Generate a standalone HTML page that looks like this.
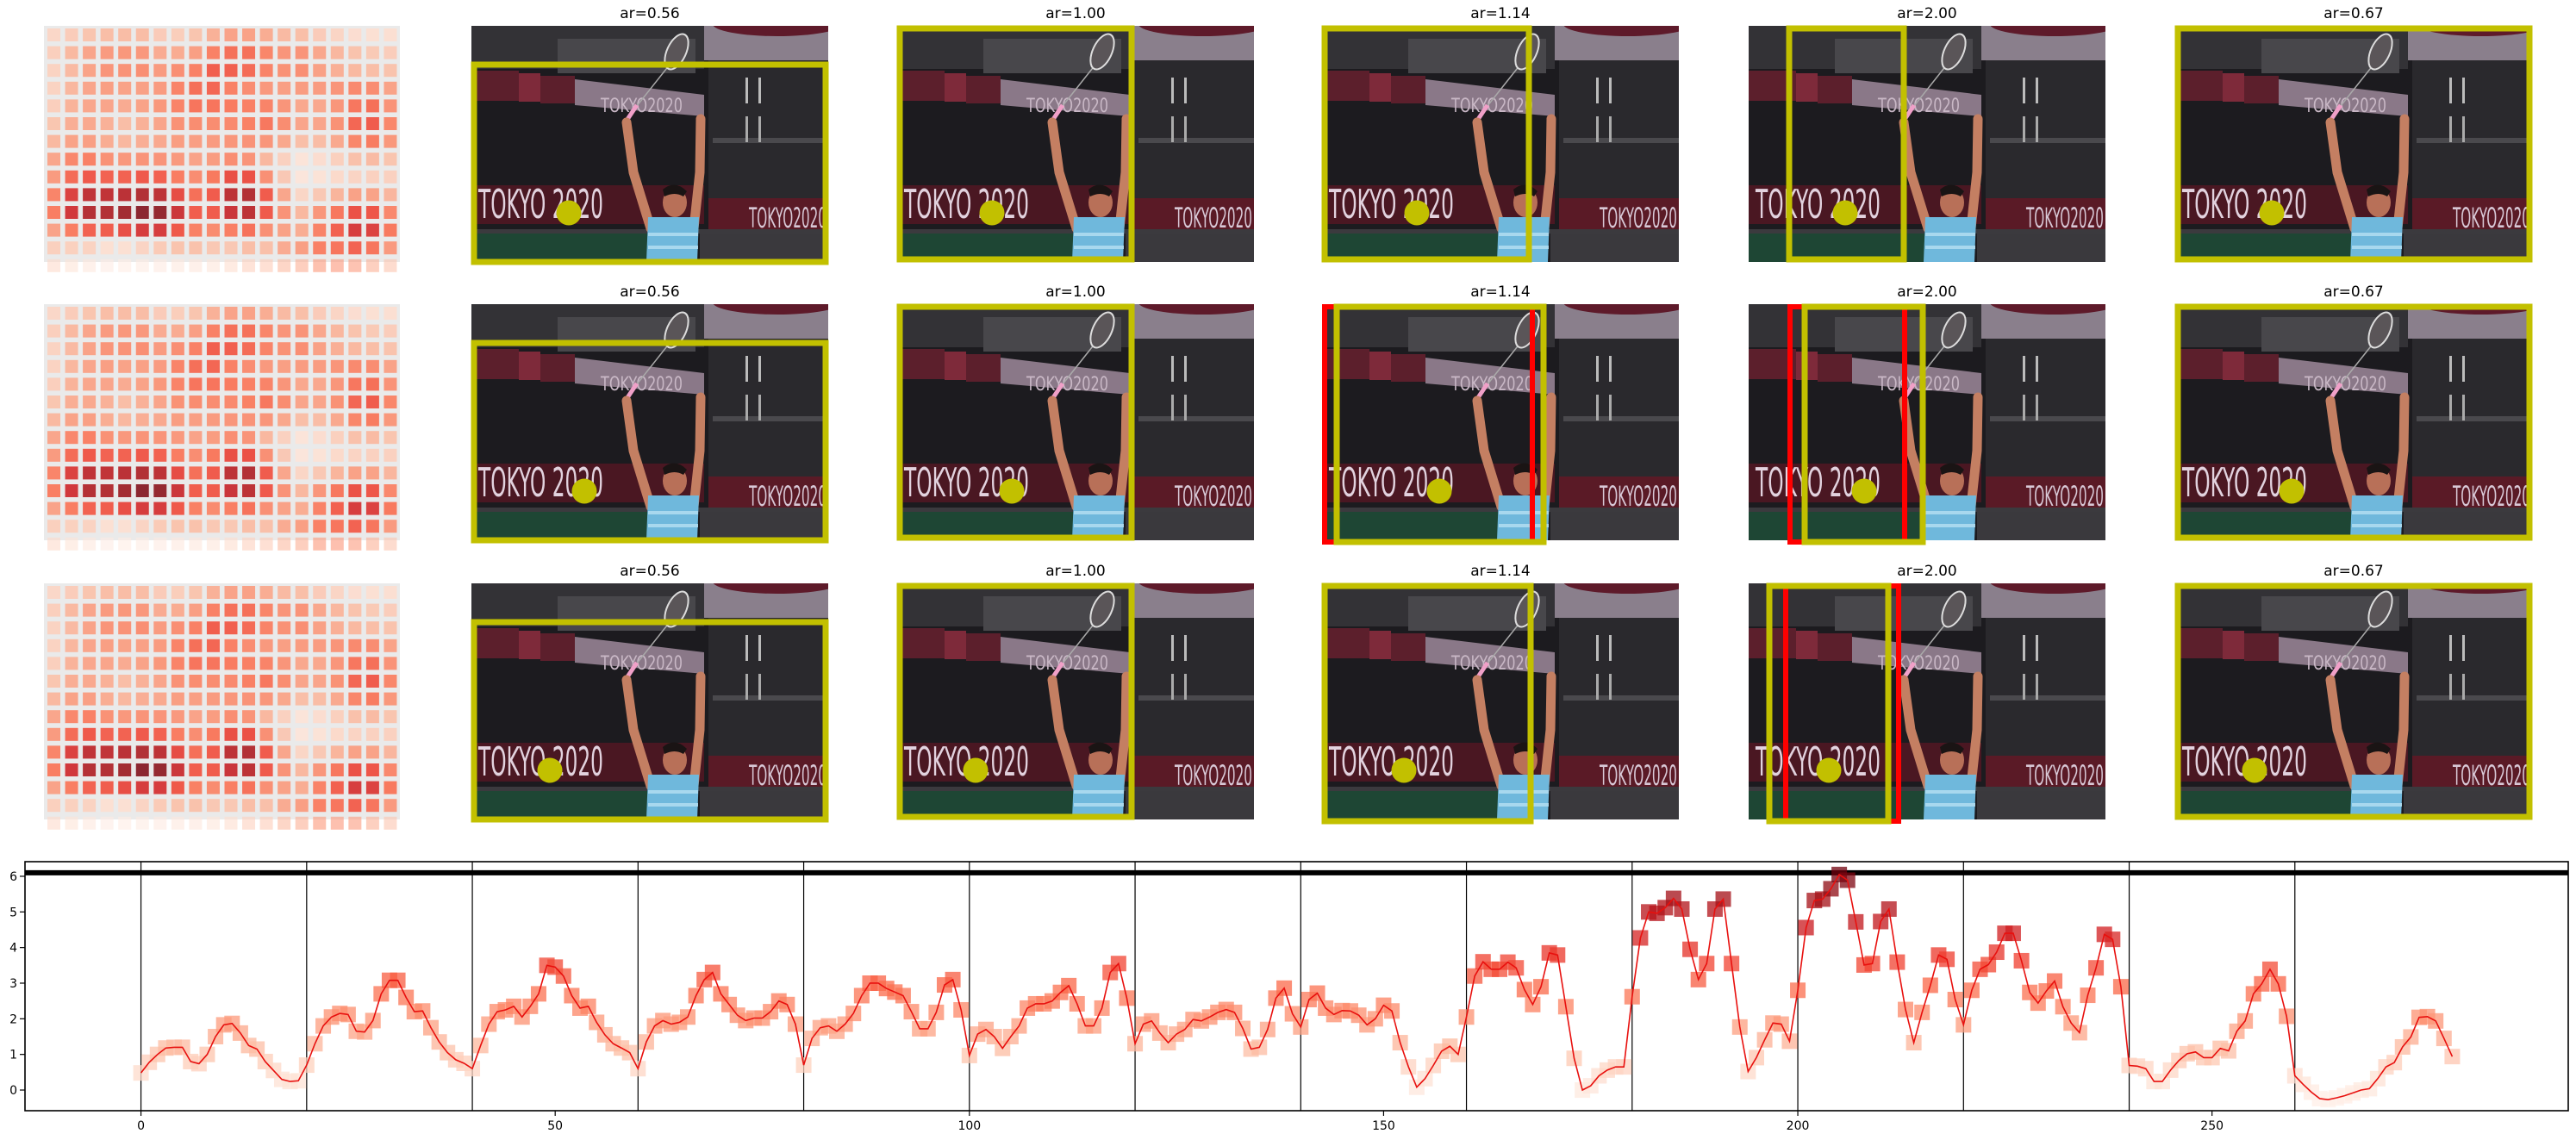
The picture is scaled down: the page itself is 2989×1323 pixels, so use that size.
<!DOCTYPE html>
<html><head><meta charset="utf-8">
<style>
html,body{margin:0;padding:0;background:#fff;}
svg{display:block;font-family:"DejaVu Sans","Liberation Sans",sans-serif;}
</style></head>
<body>
<svg id="fig" xmlns="http://www.w3.org/2000/svg" width="2989" height="1323" viewBox="0 0 2989 1323">
<defs id="defs"></defs>
<g id="panels"></g>
<g id="chart"></g>
</svg>
<script>
// ===== chart data =====
const values = [
0.48,0.78,1.0,1.18,1.2,1.2,0.8,0.74,1.0,1.5,1.83,1.87,1.6,1.25,1.15,0.8,0.55,0.3,0.24,0.26,
0.7,1.3,1.8,2.05,2.15,2.12,1.65,1.63,1.95,2.7,3.08,3.08,2.6,2.2,2.22,1.75,1.35,1.05,0.85,0.75,
0.6,1.25,1.85,2.2,2.25,2.35,2.05,2.35,2.7,3.5,3.45,3.2,2.65,2.3,2.35,1.9,1.55,1.3,1.18,1.05,
0.6,1.35,1.8,1.95,1.85,1.9,2.05,2.65,3.1,3.3,2.7,2.4,2.1,1.95,2.02,2.02,2.2,2.5,2.4,1.85,
0.7,1.45,1.75,1.8,1.65,1.85,2.15,2.65,3.0,3.0,2.85,2.75,2.65,2.2,1.72,1.72,2.18,2.95,3.1,2.25,
0.97,1.57,1.7,1.5,1.17,1.5,1.8,2.3,2.42,2.42,2.5,2.74,2.93,2.42,1.8,1.8,2.3,3.3,3.55,2.58,
1.3,1.85,1.94,1.6,1.33,1.57,1.7,1.98,1.94,2.05,2.18,2.26,2.18,1.73,1.15,1.2,1.7,2.58,2.86,2.14,
1.77,2.54,2.72,2.3,2.12,2.23,2.22,2.1,1.83,2.0,2.38,2.22,1.33,0.65,0.08,0.32,0.69,1.09,1.23,1.0,
2.05,3.2,3.6,3.39,3.39,3.59,3.43,2.82,2.4,2.9,3.85,3.79,2.34,0.89,0.0,0.12,0.4,0.56,0.65,0.65,
2.62,4.27,5.0,4.96,5.12,5.38,5.08,3.95,3.1,3.55,5.08,5.36,3.55,1.77,0.52,0.91,1.41,1.88,1.85,1.37,
2.8,4.56,5.32,5.36,5.65,6.05,5.89,4.72,3.51,3.55,4.73,5.08,3.59,2.26,1.33,2.18,2.94,3.79,3.67,2.54,
1.83,2.8,3.39,3.52,3.87,4.4,4.4,3.63,2.74,2.44,2.78,3.06,2.34,1.88,1.61,2.66,3.43,4.37,4.23,2.9,
0.69,0.67,0.6,0.24,0.24,0.56,0.83,1.02,1.07,0.91,0.91,1.17,1.1,1.65,1.94,2.7,2.98,3.39,2.98,2.07,
0.4,0.16,-0.06,-0.24,-0.27,-0.22,-0.16,-0.08,0.0,0.04,0.32,0.65,0.77,1.21,1.49,2.04,2.06,1.94,1.45,0.94
];
const xTicks = [0,50,100,150,200,250];
const yTicks = [0,1,2,3,4,5,6];
const segmentBounds = [0,20,40,60,80,100,120,140,160,180,200,220,240,260];
const thresholdValue = [6.1];
const panelTitles = ["ar=0.56","ar=1.00","ar=1.14","ar=2.00","ar=0.67"];

const NS="http://www.w3.org/2000/svg";
function mk(tag, attrs, parent){const e=document.createElementNS(NS,tag);for(const k in attrs)e.setAttribute(k,attrs[k]);if(parent)parent.appendChild(e);return e;}

// Reds colormap
const reds=[[255,245,240],[254,224,210],[252,187,161],[252,146,114],[251,106,74],[239,59,44],[203,24,29],[165,15,21],[103,0,13]];
function redsColor(t){t=Math.max(0,Math.min(1,t));const p=t*(reds.length-1);const i=Math.min(reds.length-2,Math.floor(p));const f=p-i;const a=reds[i],b=reds[i+1];
 return `rgb(${Math.round(a[0]+(b[0]-a[0])*f)},${Math.round(a[1]+(b[1]-a[1])*f)},${Math.round(a[2]+(b[2]-a[2])*f)})`;}
const vmin=Math.min(...values), vmax=Math.max(...values);
function norm(v){return (v-vmin)/(vmax-vmin);}

// ===== chart =====
const chart=document.getElementById('chart');
const AX={l:29,r:2980,t:1000,b:1289}, XD=[-14,293], YD=[-0.58,6.41];
function sx(v){return AX.l+(v-XD[0])/(XD[1]-XD[0])*(AX.r-AX.l);}
function sy(v){return AX.b-(v-YD[0])/(YD[1]-YD[0])*(AX.b-AX.t);}
const clipC=mk('clipPath',{id:'chartclip'},document.getElementById('defs'));
mk('rect',{x:AX.l,y:AX.t,width:AX.r-AX.l,height:AX.b-AX.t},clipC);
const plot=mk('g',{'clip-path':'url(#chartclip)'},chart);


segmentBounds.forEach(b=>{
 const l=mk('line',{x1:sx(b),x2:sx(b),y1:AX.t,y2:AX.b,stroke:'#000','stroke-width':1.2},plot);
 
 
});
thresholdValue.forEach(v=>{
 const l=mk('line',{x1:AX.l,x2:AX.r,y1:sy(v),y2:sy(v),stroke:'#000','stroke-width':6},plot);
 
 
});
const mg=mk('g',{},plot);


values.forEach((v,i)=>{
 const s=18;
 const r=mk('rect',{x:sx(i)-s/2,y:sy(v)-s/2,width:s,height:s,fill:redsColor(norm(v)*0.95+0.03),'fill-opacity':0.75},mg);
 
 
});
const pl=mk('polyline',{points:values.map((v,i)=>sx(i)+','+sy(v)).join(' '),fill:'none',stroke:'#e8100e','stroke-width':1.6},plot);


const frame=mk('rect',{x:AX.l,y:AX.t,width:AX.r-AX.l,height:AX.b-AX.t,fill:'none',stroke:'#000','stroke-width':1.6},chart);


xTicks.forEach(t=>{
 mk('line',{x1:sx(t),x2:sx(t),y1:AX.b,y2:AX.b+6,stroke:'#000','stroke-width':1.2},chart);
 const tx=mk('text',{x:sx(t),y:AX.b+22,'font-size':14,'text-anchor':'middle',fill:'#000'},chart);
 tx.textContent=t;
 
 
});
yTicks.forEach(t=>{
 mk('line',{x1:AX.l-6,x2:AX.l,y1:sy(t),y2:sy(t),stroke:'#000','stroke-width':1.2},chart);
 const tx=mk('text',{x:AX.l-9,y:sy(t)+5,'font-size':14,'text-anchor':'end',fill:'#000'},chart);
 tx.textContent=t;
 
 
});

// ===== top panels =====
const panels=document.getElementById('panels');
const defs=document.getElementById('defs');
const rowY=[30,353,677], colX=[547,1041,1534,2029,2524], PW=414, PH=274;
const yellowBoxes=[
 [[3,45,411,274],[3,3,272,271],[3,3,240,271],[47,3,180,271],[3,3,411,271]],
 [[3,45,411,274],[3,3,272,271],[17,3,257,276],[65,3,202,276],[3,3,411,271]],
 [[3,45,411,274],[3,3,272,271],[3,3,242,276],[24,3,162,276],[3,3,411,271]]];
const redBoxes={ '1-2':[3,3,244,276], '1-3':[48,3,181,276], '2-3':[43,3,174,276] };
const circles=[[113,110,110,112,112],[131,133,136,134,135],[91,91,95,93,92]];

function drawPhoto(g,x,y,id){
 const cp=mk('clipPath',{id:'pc'+id},defs);
 mk('rect',{x:x,y:y,width:PW,height:PH},cp);
 const p=mk('g',{'clip-path':'url(#pc'+id+')'},g);
 
 
 mk('rect',{x:x,y:y,width:PW,height:PH,fill:'#1c1b1f'},p);
 mk('rect',{x:x,y:y,width:270,height:50,fill:'#333236'},p);
 mk('rect',{x:x+100,y:y+15,width:160,height:40,fill:'#48474b'},p);
 mk('rect',{x:x+270,y:y,width:144,height:40,fill:'#8a7f8c'},p);
 mk('ellipse',{cx:x+355,cy:y-2,rx:75,ry:14,fill:'#5e1a2a'},p);
 mk('rect',{x:x+275,y:y+40,width:139,height:190,fill:'#2a292d'},p);
 mk('rect',{x:x+280,y:y+130,width:134,height:6,fill:'#4a494d'},p);
 mk('rect',{x:x+318,y:y+60,width:3,height:30,fill:'#bbb'},p);
 mk('rect',{x:x+333,y:y+60,width:3,height:30,fill:'#bbb'},p);
 mk('rect',{x:x+318,y:y+105,width:3,height:30,fill:'#aaa'},p);
 mk('rect',{x:x+333,y:y+105,width:3,height:30,fill:'#aaa'},p);
 mk('rect',{x:x,y:y+52,width:55,height:35,fill:'#5c1f2c'},p);
 mk('rect',{x:x+55,y:y+55,width:25,height:33,fill:'#7e2a3a'},p);
 mk('rect',{x:x+80,y:y+58,width:40,height:32,fill:'#5c1f2c'},p);
 mk('polygon',{points:`${x+120},${y+62} ${x+270},${y+80} ${x+270},${y+105} ${x+120},${y+92}`,fill:'#8a7888'},p);
 const t0=mk('text',{x:x+150,y:y+100,'font-size':22,fill:'#c9b8c6','textLength':95,'lengthAdjust':'spacingAndGlyphs'},p);
 t0.textContent='TOKYO2020';
 mk('rect',{x:x,y:y+185,width:270,height:45,fill:'#4a1722'},p);
 mk('rect',{x:x+275,y:y+200,width:139,height:40,fill:'#5a1a26'},p);
 const t1=mk('text',{x:x+8,y:y+223,'font-size':46,fill:'#e2d2de','textLength':145,'lengthAdjust':'spacingAndGlyphs'},p);
 t1.textContent='TOKYO 2020';
 const t2=mk('text',{x:x+322,y:y+234,'font-size':32,fill:'#d8c8d6','textLength':90,'lengthAdjust':'spacingAndGlyphs'},p);
 t2.textContent='TOKYO2020';
 mk('rect',{x:x,y:y+236,width:414,height:5,fill:'#3b3a3e'},p);
 mk('rect',{x:x,y:y+241,width:230,height:33,fill:'#1e4634'},p);
 mk('rect',{x:x+265,y:y+241,width:149,height:33,fill:'#3a393d'},p);
 // racket
 mk('line',{x1:x+184,y1:y+103,x2:x+230,y2:y+45,stroke:'#aaa','stroke-width':1.5},p);
 mk('line',{x1:x+180,y1:y+110,x2:x+192,y2:y+92,stroke:'#f0a0c8','stroke-width':5},p);
 mk('ellipse',{cx:x+238,cy:y+30,rx:11,ry:22,fill:'#5a5558',stroke:'#ddd','stroke-width':2,transform:`rotate(25 ${x+238} ${y+30})`},p);
 // person
 mk('polyline',{points:`${x+208},${y+235} ${x+188},${y+170} ${x+180},${y+112}`,fill:'none',stroke:'#c47f62','stroke-width':11,'stroke-linecap':'round'},p);
 mk('polyline',{points:`${x+258},${y+235} ${x+265},${y+170} ${x+266},${y+108}`,fill:'none',stroke:'#c47f62','stroke-width':11,'stroke-linecap':'round'},p);
 mk('ellipse',{cx:x+236,cy:y+205,rx:14,ry:17,fill:'#b87058'},p);
 mk('path',{d:`M${x+222},${y+190} q14,-12 28,2 l-4,6 q-10,-6 -22,0z`,fill:'#1a1414'},p);
 mk('path',{d:`M${x+205},${y+222} L${x+264},${y+222} L${x+262},${y+274} L${x+203},${y+274}Z`,fill:'#6fb8dc'},p);
 mk('rect',{x:x+205,y:y+240,width:58,height:4,fill:'#a8d8ee'},p);
 mk('rect',{x:x+205,y:y+255,width:58,height:4,fill:'#a8d8ee'},p);
}

// heatmaps
const HCOLS=20, HROWS=14;
for(let r=0;r<3;r++){
 const hy=rowY[r];
 const hg=mk('g',{},panels);
 
 
 mk('rect',{x:51,y:hy,width:413,height:274,fill:'#eaeaea'},hg);
 for(let i=0;i<HROWS;i++){
  for(let j=0;j<HCOLS;j++){
   const v=values[i*HCOLS+j];
   const cy=hy+3+i*20.6;
   const h=(i==HROWS-1)?15:15;
   const c=mk('rect',{x:55+j*20.55,y:cy,width:15,height:h,fill:redsColor(norm(v)*0.9+0.06),'fill-opacity':(i==HROWS-1)?0.55:0.85},hg);
   
   
  }
 }
}

let pid=0;
for(let r=0;r<3;r++){
 for(let c=0;c<5;c++){
  const x=colX[c], y=rowY[r];
  const g=mk('g',{},panels);
  
  
  const tt=mk('text',{x:x+PW/2,y:y-9,'font-size':17,'text-anchor':'middle',fill:'#000'},g);
  tt.textContent=panelTitles[c];
  
  
  drawPhoto(g,x,y,pid++);
  const rb=redBoxes[r+'-'+c];
  if(rb){
   const rr=mk('rect',{x:x+rb[0],y:y+rb[1],width:rb[2]-rb[0],height:rb[3]-rb[1],fill:'none',stroke:'#ff0000','stroke-width':6},g);
   
   
  }
  const yb=yellowBoxes[r][c];
  const yr=mk('rect',{x:x+yb[0],y:y+yb[1],width:yb[2]-yb[0],height:yb[3]-yb[1],fill:'none',stroke:'#c2c000','stroke-width':7},g);
  
  
  const ci=mk('ellipse',{cx:x+circles[r][c],cy:y+217,rx:14.5,ry:14.5,fill:'#c2c000'},g);
  
  
 }
}
</script>
</body></html>
